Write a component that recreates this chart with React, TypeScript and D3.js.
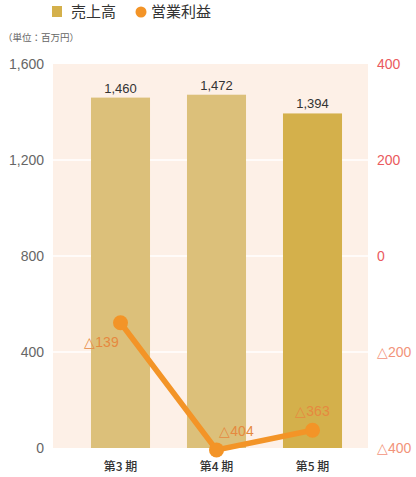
import React, { useEffect, useRef } from 'react';
import * as d3 from 'd3';

const periods = ['第3 期', '第4 期', '第5 期'];
const sales = [1460, 1472, 1394];
const profit = [-139, -404, -363];
const leftTicks = [0, 400, 800, 1200, 1600];
const rightTicks = [-400, -200, 0, 200, 400];

const fmtTri = (v: number) => (v < 0 ? '△' + d3.format(',')(-v) : d3.format(',')(v));

const App = () => {
    const ref = useRef<SVGSVGElement>(null);

    useEffect(() => {
        const svg = d3.select(ref.current);
        svg.selectAll('*').remove();

        const left = 53, right = 368, top = 64, bottom = 448;
        const font = '"Helvetica Neue", "Liberation Sans", Arial, sans-serif';
        const jp = '"Noto Sans CJK JP", sans-serif';

        const x = d3.scaleBand<string>()
            .domain(periods)
            .range([72.5, 360.5])
            .paddingInner(0.385)
            .paddingOuter(0.1925);

        const y = d3.scaleLinear().domain([0, 1600]).range([bottom, top]);
        const y2 = d3.scaleLinear().domain([-400, 400]).range([bottom, top]);

        // plot background
        svg.append('rect')
            .attr('x', left).attr('y', top)
            .attr('width', right - left).attr('height', bottom - top)
            .attr('fill', '#fdf0e7');

        // gridlines
        svg.selectAll('.grid')
            .data(leftTicks.filter(t => t > 0 && t < 1600))
            .enter().append('line')
            .attr('x1', left).attr('x2', right)
            .attr('y1', d => y(d)).attr('y2', d => y(d))
            .attr('stroke', '#ffffff').attr('stroke-width', 1.5);

        // bars
        svg.selectAll('.bar')
            .data(sales)
            .enter().append('rect')
            .attr('x', (d, i) => x(periods[i])!)
            .attr('y', d => y(d))
            .attr('width', x.bandwidth())
            .attr('height', d => bottom - y(d))
            .attr('fill', (d, i) => (i === 2 ? '#d4b04b' : '#dcc07a'));

        svg.selectAll('.barlabel')
            .data(sales)
            .enter().append('text')
            .attr('x', (d, i) => x(periods[i])! + x.bandwidth() / 2)
            .attr('y', d => y(d) - 5)
            .attr('text-anchor', 'middle')
            .attr('font-family', font).attr('font-size', 13)
            .attr('fill', '#333')
            .text(d => d3.format(',')(d));

        // left axis labels
        svg.selectAll('.ltick')
            .data(leftTicks)
            .enter().append('text')
            .attr('x', 44)
            .attr('y', d => y(d))
            .attr('dy', '0.35em')
            .attr('text-anchor', 'end')
            .attr('font-family', font).attr('font-size', 14)
            .attr('fill', '#666')
            .text(d => d3.format(',')(d));

        // right axis labels
        svg.selectAll('.rtick')
            .data(rightTicks)
            .enter().append('text')
            .attr('x', 377)
            .attr('y', d => y2(d))
            .attr('dy', '0.35em')
            .attr('font-family', font).attr('font-size', 14)
            .attr('fill', d => (d < 0 ? '#f2937a' : '#ea5a5e'))
            .text(d => fmtTri(d));

        // x labels
        svg.selectAll('.xlabel')
            .data(periods)
            .enter().append('text')
            .attr('x', d => x(d)! + x.bandwidth() / 2)
            .attr('y', 471)
            .attr('text-anchor', 'middle')
            .attr('font-family', jp).attr('font-size', 12)
            .attr('font-weight', 500)
            .attr('fill', '#333')
            .text(d => d);

        // profit line
        const cx = (i: number) => x(periods[i])! + x.bandwidth() / 2;
        const line = d3.line<number>()
            .x((d, i) => cx(i))
            .y(d => y2(d));

        svg.append('path')
            .datum(profit)
            .attr('d', line)
            .attr('fill', 'none')
            .attr('stroke', '#f39427')
            .attr('stroke-width', 5.5);

        svg.selectAll('.dot')
            .data(profit)
            .enter().append('circle')
            .attr('cx', (d, i) => cx(i))
            .attr('cy', d => y2(d))
            .attr('r', 7.5)
            .attr('fill', '#f39427');

        const offsets = [[-19, 19], [20, -19], [0, -19]];
        svg.selectAll('.plabel')
            .data(profit)
            .enter().append('text')
            .attr('x', (d, i) => cx(i) + offsets[i][0])
            .attr('y', (d, i) => y2(d) + offsets[i][1])
            .attr('dy', '0.35em')
            .attr('text-anchor', 'middle')
            .attr('font-family', font).attr('font-size', 14)
            .attr('fill', '#e6893f')
            .text(d => fmtTri(d));

        // legend
        svg.append('rect')
            .attr('x', 52).attr('y', 6).attr('width', 10).attr('height', 11)
            .attr('fill', '#d4b04b');
        svg.append('text')
            .attr('x', 71).attr('y', 12).attr('dy', '0.35em')
            .attr('font-family', jp).attr('font-size', 15)
            .attr('fill', '#333').text('売上高');
        svg.append('circle')
            .attr('cx', 141).attr('cy', 12).attr('r', 5.5)
            .attr('fill', '#f39427');
        svg.append('text')
            .attr('x', 151).attr('y', 12).attr('dy', '0.35em')
            .attr('font-family', jp).attr('font-size', 15)
            .attr('fill', '#333').text('営業利益');

        svg.append('text')
            .attr('x', 3).attr('y', 38).attr('dy', '0.35em')
            .attr('font-family', jp).attr('font-size', 9.5)
            .attr('fill', '#666').text('（単位：百万円）');
    }, []);

    return (
        <svg ref={ref} width={416} height={477}
            style={{ position: 'absolute', left: 0, top: 0, background: '#fff' }} />
    );
};

export default App;
